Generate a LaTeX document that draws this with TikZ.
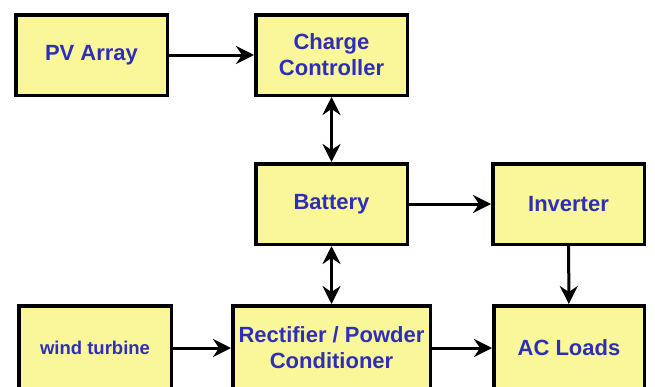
\documentclass[tikz,border=0pt]{standalone}
\usepackage{fontspec}
\setmainfont{Liberation Sans}
\usepackage{xcolor}
\usetikzlibrary{positioning,arrows.meta}
\definecolor{boxyellow}{HTML}{FAF79B}
\definecolor{labelblue}{HTML}{2E2EB8}
\tikzset{
  block/.style={draw,line width=3.5pt,fill=boxyellow,align=center,text=labelblue,
    font=\fontsize{22}{26}\selectfont\bfseries,minimum width=151.5pt,minimum height=80.5pt,inner sep=2pt},
  arr/.style={-{Stealth[length=18pt,width=18pt,inset=6pt]},line width=3pt},
  dblarr/.style={{Stealth[length=18pt,width=18pt,inset=6pt]}-{Stealth[length=18pt,width=18pt,inset=6pt]},line width=3pt},
}

\begin{document}
\begin{tikzpicture}[x=1pt,y=-1pt]
\path[use as bounding box,clip] (0,0) rectangle (655,386);
\node[block] (pv) at (91.5,55) {PV Array};
\node[block, right=85pt of pv] (cc) {Charge\\Controller};
\node[block, below=65pt of cc] (bat) {Battery};
\node[block, right=82pt of bat] (inv) {Inverter};
\node[block, minimum width=197.5pt, minimum height=84.5pt, below=58pt of bat] (rect) {Rectifier / Powder\\Conditioner};
\node[block, minimum width=152.5pt, minimum height=84.5pt, left=58pt of rect, font=\fontsize{18.5}{22}\selectfont\bfseries] (wind) {wind turbine};
\node[block, minimum width=150.5pt, minimum height=84.5pt, right=60pt of rect] (ac) {AC Loads};
\draw[arr] (pv) -- (cc);
\draw[dblarr] (cc) -- (bat);
\draw[arr] (bat) -- (inv);
\draw[dblarr] (bat) -- (rect);
\draw[arr] (inv) -- (ac);
\draw[arr] (wind) -- (rect);
\draw[arr] (rect) -- (ac);
\end{tikzpicture}
\end{document}
